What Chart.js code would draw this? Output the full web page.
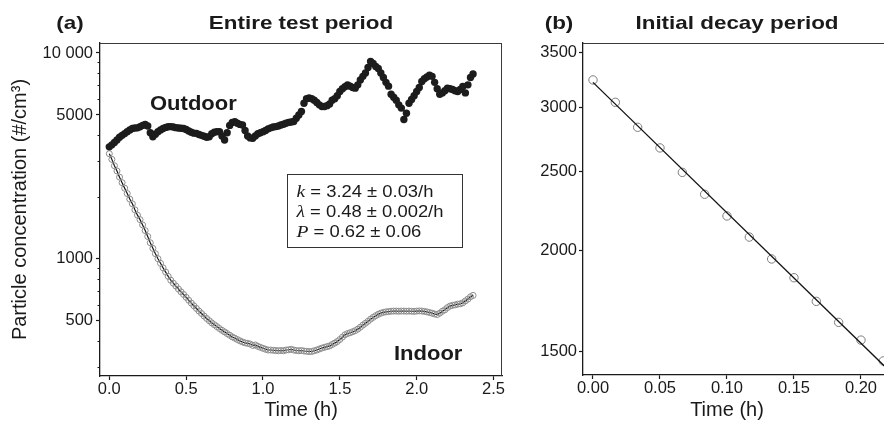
<!DOCTYPE html>
<html><head><meta charset="utf-8">
<script src="https://cdn.jsdelivr.net/npm/chart.js@4.4.1/dist/chart.umd.min.js"></script>
<style>
html,body{margin:0;padding:0;background:#fff;overflow:hidden;}
#wrap{position:relative;width:884px;height:424px;overflow:hidden;background:#fff;}
#cA{position:absolute;left:0;top:0;}
#cB{position:absolute;left:530px;top:0;}
</style></head><body>
<div id="wrap"><canvas id="cA" width="530" height="424"></canvas><canvas id="cB" width="370" height="424"></canvas></div>
<script>
// ---- data (one sample per minute, time axis in hours) ----
const SAMPLE_MINUTES = 1;
const outdoor = [3500,3580,3680,3780,3900,3980,4060,4150,4230,4300,
4320,4330,4380,4450,4500,4420,4100,3920,4030,4150,
4230,4300,4350,4380,4390,4370,4340,4320,4310,4300,
4250,4180,4120,4080,4070,4020,3980,3940,3900,3920,
4050,4120,4150,4150,3950,3780,4100,4450,4600,4640,
4560,4500,4470,4200,3950,3870,3850,3950,4050,4100,
4150,4200,4280,4330,4370,4390,4420,4470,4510,4560,
4600,4620,4650,4820,5000,5200,5700,6000,6050,6000,
5900,5750,5600,5500,5500,5550,5650,5900,6000,6200,
6500,6700,6850,7000,6900,6800,6750,7000,7400,7700,
8000,8500,9100,8900,8600,8400,8000,7600,7200,6900,
6300,6100,5900,5600,5400,4750,5100,5700,5950,6200,
6500,6800,7270,7500,7650,7800,7700,7200,6700,6300,
6400,6550,6750,6700,6650,6550,6500,6650,6880,6400,
7000,7600,7900];
const indoor = [3242,3043,2835,2674,2495,2345,2205,2077,1952,1851,
1731,1631,1551,1462,1372,1285,1198,1125,1060,1002,
952,905,863,823,788,762,738,714,692,672,
651,630,610,592,575,558,543,528,514,501,
489,479,469,459,450,442,434,426,418,412,
406,400,395,391,389,386,380,382,376,372,
368,364,361,361,360,359,358,359,358,361,
362,364,361,359,358,359,357,356,355,355,
358,361,365,369,372,375,378,384,390,397,
406,417,428,434,438,443,448,456,466,477,
487,498,510,520,530,538,545,550,553,555,
557,558,558,557,558,558,557,558,557,556,
558,559,558,556,553,549,545,540,537,545,
557,566,580,590,595,598,603,605,612,625,
638,655,665];
const decayIndoor = [3242,3043,2835,2674,2495,2345,2205,2077,1952,1851,1731,1631,1551,1462];
const decayFitTime = [0, 0.2224];
const decayFit = [3220, 1415];

const ticksAx = [0, 0.5, 1.0, 1.5, 2.0, 2.5];
const ticksAy = [500, 1000, 5000, 10000];
const labelsAy = ['500', '1000', '5000', '10 000'];
const minorAy = [300, 400, 600, 700, 800, 900, 2000, 3000, 4000, 6000, 7000, 8000, 9000];
const ticksBx = [0, 0.05, 0.10, 0.15, 0.20];
const ticksBy = [1500, 2000, 2500, 3000, 3500];

const hours = i => i * SAMPLE_MINUTES / 60;
const toXY = arr => arr.map((v, i) => ({x: hours(i), y: v}));

// ---- styles ----
const SANS = '"Liberation Sans", Arial, Helvetica, sans-serif';
const INK = '#1a1a1a';
const tickFont = {family: SANS, size: 16.5};

function stretchedText(ctx, txt, x, y, font, sx, align) {
  ctx.save();
  ctx.font = font; ctx.fillStyle = INK;
  ctx.textBaseline = 'alphabetic'; ctx.textAlign = align || 'left';
  ctx.translate(x, y); ctx.scale(sx, 1);
  ctx.fillText(txt, 0, 0);
  ctx.restore();
}
function mixedLine(ctx, v, rest, x, y, sx) {
  ctx.save();
  ctx.fillStyle = INK; ctx.textBaseline = 'alphabetic'; ctx.textAlign = 'left';
  ctx.translate(x, y); ctx.scale(sx, 1);
  ctx.font = 'italic 17px "Liberation Serif", "Times New Roman", serif';
  ctx.fillText(v, 0, 0);
  const w = ctx.measureText(v).width;
  ctx.font = '16px ' + SANS;
  ctx.fillText(rest, w, 0);
  ctx.restore();
}
function frame(ctx, a) {
  ctx.save();
  ctx.strokeStyle = '#3a3a3a'; ctx.lineWidth = 1;
  ctx.beginPath();
  ctx.moveTo(a.left, a.top + 0.5); ctx.lineTo(a.right, a.top + 0.5);
  ctx.moveTo(a.right - 0.5, a.top); ctx.lineTo(a.right - 0.5, a.bottom);
  ctx.stroke();
  ctx.restore();
}

const commonX = (min, max, ticks, dec, h) => ({
  type: 'linear', min: min, max: max,
  afterBuildTicks: s => { s.ticks = ticks.map(v => ({value: v})); },
  afterFit: s => { s.height = h; },
  ticks: {font: tickFont, color: INK, padding: 0, autoSkip: false, maxRotation: 0, minRotation: 0,
          callback: v => Number(v).toFixed(dec)},
  grid: {drawOnChartArea: false, tickLength: 4, tickColor: INK, tickWidth: 1.2},
  border: {color: INK, width: 1.3}
});

// ---- panel (a) ----
const plugA = {
  id: 'decorA',
  afterDraw(chart) {
    const ctx = chart.ctx, a = chart.chartArea, ys = chart.scales.y;
    frame(ctx, a);
    ctx.save(); ctx.strokeStyle = INK; ctx.lineWidth = 1.1;
    ctx.beginPath();
    minorAy.forEach(v => { const p = Math.round(ys.getPixelForValue(v)) + 0.5; ctx.moveTo(a.left - 2.5, p); ctx.lineTo(a.left, p); });
    ctx.stroke(); ctx.restore();
    const bold = 'bold 19px ' + SANS;
    stretchedText(ctx, '(a)', 70, 29, bold, 1.18, 'center');
    stretchedText(ctx, 'Entire test period', (a.left + a.right) / 2, 29, bold, 1.18, 'center');
    stretchedText(ctx, 'Outdoor', 150, 110, 'bold 20px ' + SANS, 1.1, 'left');
    stretchedText(ctx, 'Indoor', 394, 360, 'bold 20px ' + SANS, 1.1, 'left');
    ctx.save(); ctx.strokeStyle = '#333'; ctx.lineWidth = 1;
    ctx.strokeRect(287.5, 174.5, 175, 73); ctx.restore();
    mixedLine(ctx, 'k', ' = 3.24 ± 0.03/h', 296.5, 197, 1.15);
    mixedLine(ctx, 'λ', ' = 0.48 ± 0.002/h', 296.5, 216.5, 1.15);
    mixedLine(ctx, 'P', ' = 0.62 ± 0.06', 296.5, 236.5, 1.15);
  }
};

new Chart(document.getElementById('cA'), {
  type: 'scatter',
  data: {datasets: [
    {label: 'Outdoor', data: toXY(outdoor), showLine: false,
     pointRadius: 3.7, pointBackgroundColor: '#1c1c1c', pointBorderColor: '#1c1c1c', pointBorderWidth: 0},
    {label: 'Indoor', data: toXY(indoor), showLine: true, borderColor: '#111', borderWidth: 1.2, tension: 0,
     pointRadius: 3, pointBackgroundColor: 'rgba(0,0,0,0)', pointBorderColor: '#8c8c8c', pointBorderWidth: 1}
  ]},
  options: {
    responsive: false, animation: false, devicePixelRatio: 1,
    layout: {padding: {left: 0, right: 28, top: 43, bottom: 0}},
    plugins: {legend: {display: false}, tooltip: {enabled: false}},
    scales: {
      x: Object.assign(commonX(-0.0605, 2.555, ticksAx, 1, 48), {
        title: {display: true, text: 'Time (h)', color: INK, font: {family: SANS, size: 20}, padding: {top: 0, bottom: 2}}
      }),
      y: {
        type: 'logarithmic', min: 270, max: 11180,
        afterBuildTicks: s => { s.ticks = ticksAy.map(v => ({value: v})); },
        afterFit: s => { s.width = 100; },
        ticks: {font: tickFont, color: INK, padding: 3, autoSkip: false,
                callback: v => labelsAy[ticksAy.indexOf(v)]},
        grid: {drawOnChartArea: false, tickLength: 4, tickColor: INK, tickWidth: 1.2},
        border: {color: INK, width: 1.3},
        title: {display: true, text: 'Particle concentration (#/cm³)', color: INK,
                font: {family: SANS, size: 20}, padding: {top: 8, bottom: 0}}
      }
    }
  },
  plugins: [plugA]
});

// ---- panel (b) ----
const plugB = {
  id: 'decorB',
  afterDraw(chart) {
    const ctx = chart.ctx, a = chart.chartArea;
    frame(ctx, a);
    const bold = 'bold 19px ' + SANS;
    stretchedText(ctx, '(b)', 29, 29, bold, 1.18, 'center');
    stretchedText(ctx, 'Initial decay period', (a.left + a.right) / 2, 29, bold, 1.18, 'center');
    ctx.save(); ctx.font = '20px ' + SANS; ctx.fillStyle = INK;
    ctx.textAlign = 'center'; ctx.textBaseline = 'middle';
    ctx.fillText('Time (h)', 197, 410); ctx.restore();
  }
};

new Chart(document.getElementById('cB'), {
  type: 'scatter',
  data: {datasets: [
    {label: 'Fit', data: decayFitTime.map((t, i) => ({x: t, y: decayFit[i]})), showLine: true,
     borderColor: '#111', borderWidth: 1.3, pointRadius: 0},
    {label: 'Indoor', data: toXY(decayIndoor), showLine: false,
     pointRadius: 4.2, pointBackgroundColor: 'rgba(0,0,0,0)', pointBorderColor: '#7d7d7d', pointBorderWidth: 1}
  ]},
  options: {
    responsive: false, animation: false, devicePixelRatio: 1,
    layout: {padding: {left: 0, right: 9, top: 43, bottom: 0}},
    plugins: {legend: {display: false}, tooltip: {enabled: false}},
    scales: {
      x: commonX(-0.00746, 0.2224, ticksBx, 2, 49),
      y: {
        type: 'logarithmic', min: 1405, max: 3600,
        afterBuildTicks: s => { s.ticks = ticksBy.map(v => ({value: v})); },
        afterFit: s => { s.width = 53; },
        ticks: {font: tickFont, color: INK, padding: 2, autoSkip: false, callback: v => String(v)},
        grid: {drawOnChartArea: false, tickLength: 4, tickColor: INK, tickWidth: 1.2},
        border: {color: INK, width: 1.3}
      }
    }
  },
  plugins: [plugB]
});
</script>
</body></html>
